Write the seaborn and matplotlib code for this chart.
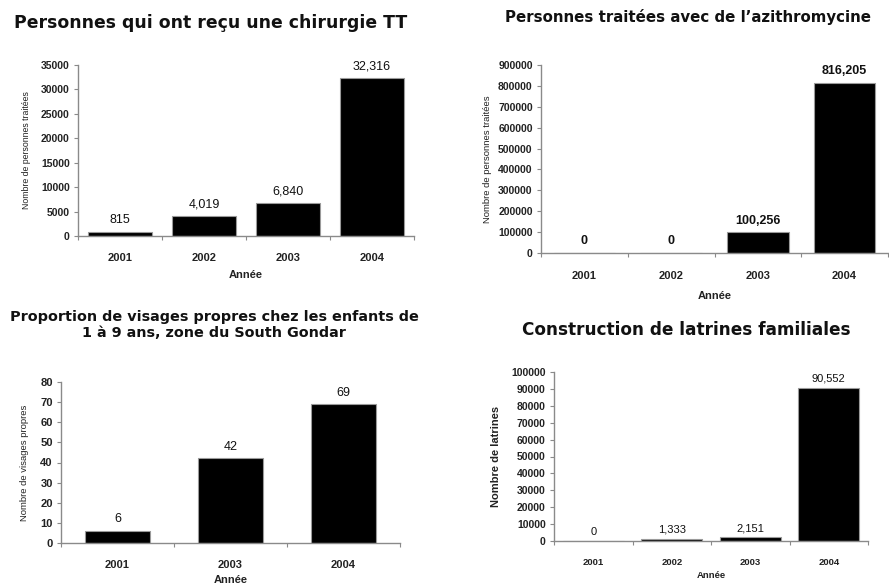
import matplotlib
matplotlib.use("Agg")
import matplotlib.pyplot as plt
import seaborn as sns
import pandas as pd
from matplotlib.ticker import MultipleLocator, FixedLocator

# Data
years_tt = ["2001", "2002", "2003", "2004"]
surgery_tt = [815, 4019, 6840, 32316]

years_azi = ["2001", "2002", "2003", "2004"]
azithro = [0, 0, 100256, 816205]

years_faces = ["2001", "2003", "2004"]
clean_faces = [6, 42, 69]

years_lat = ["2001", "2002", "2003", "2004"]
latrines = [0, 1333, 2151, 90552]

sns.set_theme(style="white")
plt.rcParams["font.family"] = ["Liberation Sans", "DejaVu Sans"]

W, H = 889, 588
fig = plt.figure(figsize=(W / 100, H / 100), dpi=100)


def px_axes(x0, x1, y0, y1):
    return fig.add_axes([x0 / W, 1 - y1 / H, (x1 - x0) / W, (y1 - y0) / H])


def px_title(x, y, s, size, **kw):
    fig.text(x / W, 1 - y / H, s, ha="center", va="center", fontsize=size,
             fontweight="bold", family=["DejaVu Sans"], color="#111111", **kw)


def draw_panel(ax, cats, vals, width, ymax, ystep, ylabel, ylab_size, ylab_weight,
               ylab_x, xlab_y, xtick_size, ytick_size, xpad, val_size, val_weight, val_pad):
    df = pd.DataFrame({"Année": cats, "val": vals})
    sns.barplot(data=df, x="Année", y="val", color="black", width=width,
                edgecolor="#9a9a9a", linewidth=0.8, saturation=1, ax=ax)
    n = len(cats)
    ax.set_xlim(-0.5, n - 0.5)
    ax.set_ylim(0, ymax)
    ax.yaxis.set_major_locator(MultipleLocator(ystep))
    ax.xaxis.set_minor_locator(FixedLocator([i + 0.5 for i in range(-1, n)]))
    for side in ("top", "right"):
        ax.spines[side].set_visible(False)
    for side in ("left", "bottom"):
        ax.spines[side].set_color("#8a8a8a")
        ax.spines[side].set_linewidth(1.0)
    ax.tick_params(axis="y", which="major", left=True, length=3, width=0.8,
                   color="#8a8a8a", labelsize=ytick_size, pad=3)
    ax.tick_params(axis="x", which="major", bottom=False, labelsize=xtick_size, pad=xpad)
    ax.tick_params(axis="x", which="minor", bottom=True, length=3, width=0.8,
                   color="#8a8a8a")
    for lab in ax.get_xticklabels() + ax.get_yticklabels():
        lab.set_fontweight("bold")
        lab.set_color("#222222")
    ax.set_ylabel(ylabel, fontsize=ylab_size, fontweight=ylab_weight, color="#222222")
    ax.yaxis.set_label_coords(ylab_x, 0.5)
    ax.set_xlabel("Année", fontsize=xtick_size, fontweight="bold", color="#222222")
    ax.xaxis.set_label_coords(0.5, xlab_y)
    for i, v in enumerate(vals):
        ax.annotate(f"{v:,}", (i, v), xytext=(0, val_pad), textcoords="offset points",
                    ha="center", va="bottom", fontsize=val_size, fontweight=val_weight,
                    color="#111111")


# Panel 1: trichiasis surgery
ax1 = px_axes(78, 414, 65, 236)
draw_panel(ax1, years_tt, surgery_tt, 0.76, 35000, 5000,
           "Nombre de personnes traitées", 6.3, "normal", -0.14, -0.2,
           8, 7.5, 6, 9, "normal", 4)
px_title(211, 23, "Personnes qui ont reçu une chirurgie TT", 12.4)

# Panel 2: azithromycin distribution
ax2 = px_axes(541, 888, 65, 253)
draw_panel(ax2, years_azi, azithro, 0.71, 900000, 100000,
           "Nombre de personnes traitées", 6.8, "normal", -0.14, -0.2,
           8, 7.5, 7, 9, "bold", 4)
px_title(688, 17, "Personnes traitées avec de l’azithromycine", 10.8)

# Panel 3: clean faces
ax3 = px_axes(61, 400, 382, 543)
draw_panel(ax3, years_faces, clean_faces, 0.58, 80, 10,
           "Nombre de visages propres", 6.8, "normal", -0.095, -0.2,
           8, 8, 6, 9, "normal", 4)
px_title(214, 325, "Proportion de visages propres chez les enfants de\n1 à 9 ans, zone du South Gondar",
         10.4, linespacing=1.15)

# Panel 4: household latrines
ax4 = px_axes(554, 868, 372, 541)
draw_panel(ax4, years_lat, latrines, 0.78, 100000, 10000,
           "Nombre de latrines", 8, "bold", -0.17, -0.18,
           6.8, 7.5, 6, 8, "normal", 3)
px_title(686, 330, "Construction de latrines familiales", 12.2)

fig.savefig("out.png", dpi=100, facecolor="white")
